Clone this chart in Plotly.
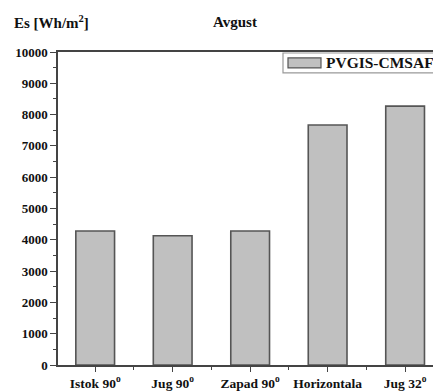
import plotly.graph_objects as go

categories = ["Istok 90<sup>o</sup>", "Jug 90<sup>o</sup>", "Zapad 90<sup>o</sup>", "Horizontala", "Jug 32<sup>o</sup>"]
values = [4280, 4130, 4280, 7670, 8270]
series_name = "PVGIS-CMSAF"
y_ticks = [0, 1000, 2000, 3000, 4000, 5000, 6000, 7000, 8000, 9000, 10000]
y_labels = [str(v) for v in y_ticks]

W, H = 433, 391
ML, MR, MT, MB = 58, 0, 52, 24
serif = "Liberation Serif"
axis_col = "#444444"

positions = list(range(len(categories)))

fig = go.Figure()
fig.add_trace(go.Bar(
    x=positions, y=values, name=series_name, width=0.5,
    marker=dict(color="#c0c0c0", line=dict(color="#555555", width=1.6)),
    showlegend=False,
))

fig.update_layout(
    width=W, height=H,
    margin=dict(l=ML, r=MR, t=MT, b=MB),
    plot_bgcolor="white", paper_bgcolor="white",
    font=dict(family=serif, color="#111111"),
    bargap=0.5,
    xaxis=dict(
        range=[-0.48, 4.36], tickvals=positions, ticktext=categories,
        showline=True, linecolor=axis_col, linewidth=1.5, mirror=True,
        ticks="outside", ticklen=5, tickwidth=1.2, tickcolor=axis_col,
        showgrid=False, zeroline=False,
        tickfont=dict(family=serif, size=13.5, color="#111111", weight="bold"),
        minor=dict(tickvals=[p + 0.5 for p in positions], ticks="outside",
                   ticklen=3, tickwidth=1, tickcolor=axis_col),
    ),
    yaxis=dict(
        range=[0, 10000], tickvals=y_ticks, ticktext=y_labels,
        showline=True, linecolor=axis_col, linewidth=1.5,
        ticks="outside", ticklen=6, tickwidth=1.2, tickcolor=axis_col,
        showgrid=False, zeroline=False,
        tickfont=dict(family=serif, size=13, color="#111111", weight="bold"),
        minor=dict(dtick=500, ticks="outside", ticklen=3, tickwidth=1,
                   tickcolor=axis_col),
    ),
)

# Legend box drawn in pixel-derived paper coordinates
pw, ph = W - ML - MR, H - MT - MB
px = lambda x: (x - ML) / pw
py = lambda y: (H - MB - y) / ph
fig.add_shape(type="rect", xref="paper", yref="paper",
              x0=px(283), x1=px(436), y0=py(73), y1=py(53),
              line=dict(color="#999999", width=1.2), fillcolor="white")
fig.add_shape(type="rect", xref="paper", yref="paper",
              x0=px(288), x1=px(321), y0=py(68), y1=py(58),
              line=dict(color="#555555", width=1.2), fillcolor="#c0c0c0")
fig.add_annotation(xref="paper", yref="paper", x=px(324), y=py(63),
                   text=series_name, showarrow=False, xanchor="left", yanchor="middle",
                   font=dict(family=serif, size=15.5, color="#111111", weight="bold"))

# Axis unit label and title
fig.add_annotation(xref="paper", yref="paper", x=px(12), y=py(22),
                   text="Es [Wh/m<sup>2</sup>]", showarrow=False,
                   xanchor="left", yanchor="middle",
                   font=dict(family=serif, size=15, color="#111111", weight="bold"))
fig.add_annotation(xref="paper", yref="paper", x=px(235), y=py(22),
                   text="Avgust", showarrow=False,
                   xanchor="center", yanchor="middle",
                   font=dict(family=serif, size=15, color="#111111", weight="bold"))

fig.write_html("out.html")
